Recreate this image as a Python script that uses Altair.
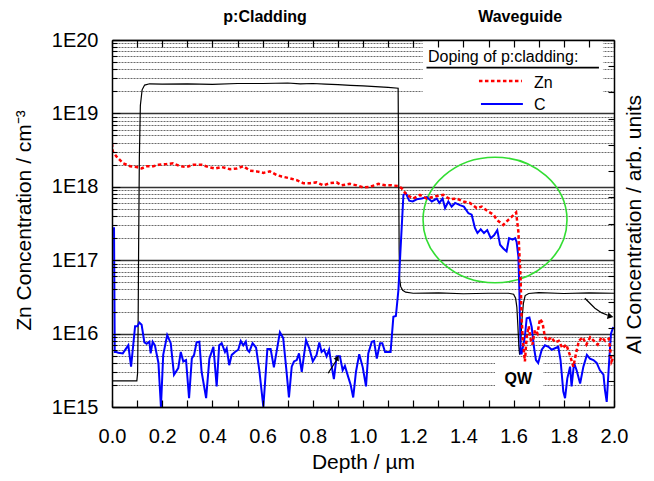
import altair as alt
import pandas as pd

FONT = "Liberation Sans"
W, H = 502, 367

# ---------------- values ----------------
zn_depth = [0.000, 0.003, 0.021, 0.045, 0.072, 0.098, 0.118, 0.138, 0.165, 0.185, 0.218, 0.244, 0.271, 0.297,
            0.324, 0.357, 0.384, 0.410, 0.437, 0.470, 0.497, 0.523, 0.550, 0.576, 0.603, 0.629, 0.656, 0.676,
            0.703, 0.736, 0.762, 0.789, 0.815, 0.842, 0.869, 0.895, 0.915, 0.948, 0.975, 1.001, 1.028, 1.061,
            1.088, 1.114, 1.141, 1.154, 1.174, 1.200, 1.227, 1.254, 1.287, 1.320, 1.347, 1.373, 1.400, 1.426,
            1.453, 1.473, 1.500, 1.520, 1.533, 1.559, 1.579, 1.592, 1.610, 1.619, 1.623, 1.628, 1.632, 1.637,
            1.645, 1.652, 1.660, 1.668, 1.675, 1.685, 1.695, 1.705, 1.715, 1.725, 1.735, 1.750, 1.765, 1.780,
            1.795, 1.810, 1.825, 1.838, 1.850, 1.860, 1.875, 1.890, 1.905, 1.920, 1.935, 1.950, 1.965, 1.980,
            1.990, 2.000]
zn_log10 = [18.59, 18.48, 18.40, 18.32, 18.28, 18.27, 18.25, 18.28, 18.28, 18.30, 18.31, 18.32, 18.28, 18.27,
            18.30, 18.30, 18.27, 18.25, 18.27, 18.24, 18.25, 18.28, 18.22, 18.21, 18.19, 18.21, 18.16, 18.14,
            18.12, 18.09, 18.05, 18.05, 18.06, 18.02, 18.05, 18.06, 18.02, 18.04, 18.02, 17.99, 18.00, 18.04,
            18.02, 18.02, 18.01, 17.98, 17.89, 17.84, 17.89, 17.84, 17.87, 17.89, 17.83, 17.84, 17.80, 17.78,
            17.71, 17.73, 17.66, 17.62, 17.55, 17.48, 17.55, 17.59, 17.65, 17.39, 17.09, 16.73, 16.20, 15.90,
            15.62, 15.95, 16.10, 15.92, 15.85, 16.05, 16.00, 16.20, 16.15, 15.95, 15.90, 15.95, 15.88, 15.90,
            15.80, 15.85, 15.70, 15.55, 15.75, 15.90, 15.95, 15.85, 15.95, 15.90, 15.85, 15.95, 15.90, 15.93,
            15.62, 15.70]

c_depth = [0.008, 0.011, 0.017, 0.025, 0.043, 0.065, 0.076, 0.092, 0.101, 0.109, 0.118, 0.129, 0.138, 0.149,
           0.154, 0.162, 0.171, 0.185, 0.195, 0.204, 0.220, 0.234, 0.247, 0.264, 0.274, 0.284, 0.295, 0.307,
           0.318, 0.327, 0.337, 0.348, 0.357, 0.375, 0.388, 0.404, 0.417, 0.427, 0.437, 0.450, 0.457, 0.467,
           0.477, 0.490, 0.503, 0.513, 0.523, 0.533, 0.539, 0.547, 0.560, 0.574, 0.587, 0.603, 0.619, 0.632,
           0.645, 0.669, 0.682, 0.692, 0.705, 0.716, 0.725, 0.736, 0.745, 0.756, 0.773, 0.786, 0.800, 0.815,
           0.826, 0.835, 0.845, 0.855, 0.865, 0.875, 0.884, 0.895, 0.908, 0.919, 0.928, 0.941, 0.951, 0.961,
           0.972, 0.985, 0.999, 1.012, 1.021, 1.035, 1.044, 1.055, 1.068, 1.077, 1.088, 1.110, 1.121, 1.131,
           1.141, 1.161, 1.171, 1.184, 1.198, 1.214, 1.234, 1.254, 1.274, 1.294, 1.304, 1.317, 1.327, 1.340,
           1.353, 1.367, 1.386, 1.402, 1.420, 1.433, 1.446, 1.456, 1.469, 1.482, 1.495, 1.509, 1.522, 1.535,
           1.546, 1.559, 1.572, 1.582, 1.596, 1.606, 1.612, 1.619, 1.623, 1.628, 1.632, 1.645, 1.652, 1.663,
           1.672, 1.681, 1.689, 1.698, 1.712, 1.725, 1.739, 1.752, 1.765, 1.778, 1.787, 1.798, 1.805, 1.814,
           1.825, 1.831, 1.841, 1.851, 1.865, 1.878, 1.892, 1.904, 1.918, 1.931, 1.944, 1.958, 1.964, 1.971,
           1.981, 1.988, 1.997]
c_log10 = [17.45, 15.75, 15.75, 15.74, 15.73, 15.84, 15.55, 16.10, 16.10, 16.15, 16.12, 15.88, 15.86, 15.89,
           15.73, 15.89, 15.84, 15.60, 15.00, 15.71, 15.98, 15.87, 15.44, 15.53, 15.75, 15.62, 15.64, 15.12,
           15.66, 15.71, 15.88, 15.89, 15.48, 15.12, 15.66, 15.82, 15.28, 15.84, 15.87, 15.75, 15.80, 15.57,
           15.71, 15.75, 15.78, 15.90, 15.84, 15.89, 15.78, 15.75, 15.87, 15.81, 15.50, 15.00, 15.79, 15.79,
           15.54, 16.02, 15.94, 15.60, 15.13, 15.55, 15.62, 15.64, 15.73, 15.48, 15.91, 15.80, 15.62, 15.71,
           15.88, 15.75, 15.78, 15.69, 15.78, 15.56, 15.38, 15.69, 15.69, 15.50, 15.56, 15.41, 15.30, 15.13,
           15.48, 15.72, 15.54, 15.28, 15.73, 15.89, 15.90, 15.66, 15.87, 15.87, 15.75, 15.75, 16.23, 16.24,
           16.59, 17.89, 17.91, 17.81, 17.80, 17.83, 17.84, 17.86, 17.80, 17.84, 17.78, 17.84, 17.71, 17.80,
           17.73, 17.78, 17.75, 17.73, 17.64, 17.62, 17.44, 17.37, 17.42, 17.37, 17.41, 17.30, 17.34, 17.41,
           17.21, 17.16, 17.12, 17.30, 17.28, 17.30, 17.25, 17.05, 16.59, 15.73, 15.73, 15.96, 16.21, 16.22,
           16.09, 15.82, 15.64, 15.60, 15.78, 15.84, 15.82, 15.78, 15.80, 15.82, 15.64, 15.21, 15.12, 15.39,
           15.55, 15.28, 15.60, 15.50, 15.32, 15.55, 15.71, 15.66, 15.64, 15.60, 15.50, 15.44, 15.23, 15.07,
           15.64, 16.00, 16.09]

al_depth = [0.000, 0.099, 0.102, 0.104, 0.106, 0.109, 0.113, 0.120, 0.130, 0.150, 0.200, 0.300, 0.400, 0.500,
            0.600, 0.700, 0.750, 0.800, 0.850, 0.900, 0.950, 1.000, 1.050, 1.100, 1.140, 1.142, 1.144, 1.146,
            1.150, 1.158, 1.170, 1.200, 1.300, 1.400, 1.500, 1.580, 1.600, 1.608, 1.613, 1.617, 1.621, 1.624,
            1.628, 1.633, 1.639, 1.646, 1.660, 1.700, 1.800, 1.900, 2.000]
al_level = [1.00, 1.00, 1.30, 3.00, 6.00, 9.50, 11.50, 12.10, 12.28, 12.33, 12.32, 12.33, 12.31, 12.34,
            12.34, 12.36, 12.33, 12.34, 12.32, 12.30, 12.27, 12.25, 12.22, 12.19, 12.16, 9.00, 6.00, 4.90,
            4.60, 4.45, 4.38, 4.34, 4.35, 4.32, 4.34, 4.34, 4.30, 4.15, 3.80, 3.10, 2.30, 2.00,
            2.40, 3.30, 3.95, 4.25, 4.33, 4.36, 4.33, 4.35, 4.34]

x_tick_values = [0.0, 0.1, 0.2, 0.3, 0.4, 0.5, 0.6, 0.7, 0.8, 0.9, 1.0, 1.1, 1.2, 1.3, 1.4, 1.5, 1.6, 1.7,
                 1.8, 1.9, 2.0]
x_label_values = [0.0, 0.2, 0.4, 0.6, 0.8, 1.0, 1.2, 1.4, 1.6, 1.8, 2.0]
y_decades = [1e15, 1e16, 1e17, 1e18, 1e19, 1e20]
y_minor_mult = [2, 3, 4, 5, 6, 7, 8, 9]
al_tick_values = [1, 2, 3, 4, 5, 6, 7, 8, 9, 10, 11, 12, 13]

region_labels = ["p:Cladding", "Waveguide"]
region_depth = [0.61, 1.626]

legend_texts = ["Doping of p:cladding:", "Zn", "C"]
legend_text_depth = [1.259, 1.681, 1.681]
legend_text_conc = [5.0e19, 2.22e19, 1.11e19]

# ---------------- tables ----------------
zn_df = pd.DataFrame({"depth": zn_depth, "conc": [10 ** v for v in zn_log10], "i": range(len(zn_depth))})
c_df = pd.DataFrame({"depth": c_depth, "conc": [10 ** v for v in c_log10], "i": range(len(c_depth))})
al_df = pd.DataFrame({"depth": al_depth, "al": al_level, "i": range(len(al_depth))})
y_all = sorted(y_decades + [m * d for d in y_decades[:-1] for m in y_minor_mult])

XS = alt.Scale(domain=[0, 2], nice=False, zero=False)
YL = alt.Scale(type="log", domain=[1e15, 1e20], nice=False)
YA = alt.Scale(domain=[0, 14], nice=False, zero=False)

MAJOR = "abs(log(datum.value)/LN10 - round(log(datum.value)/LN10)) < 0.001"

# ---------------- axes ----------------
ax_x_labels = alt.Axis(orient="bottom", values=x_label_values, format=".1f", labelFont=FONT, labelFontSize=20,
                       labelColor="black", labelPadding=19, labelFlush=False, labelOverlap=False, ticks=False,
                       domain=True, domainColor="black", domainWidth=1.5, grid=False, title="Depth / µm",
                       titleFont=FONT, titleFontSize=21, titleFontWeight="normal", titleColor="black",
                       titleX=251, titleY=61, titleAlign="center", titleBaseline="alphabetic", zindex=1)
ax_x_ticks_bottom = alt.Axis(orient="top", offset=-H, values=x_tick_values, ticks=True, tickSize=7,
                             tickColor="black", tickWidth=1.2, labels=False, domain=False, grid=False,
                             title=None, zindex=1)
ax_x_ticks_top = alt.Axis(orient="bottom", offset=-H, values=x_tick_values, ticks=True, tickSize=7,
                          tickColor="black", tickWidth=1.2, labels=False, domain=True, domainColor="black",
                          domainWidth=1.5, grid=False, title=None, zindex=1)
ax_y_grid = alt.Axis(orient="left", values=y_all, grid=True,
                     gridDash={"condition": {"test": MAJOR, "value": []}, "value": [2, 1]},
                     gridColor={"condition": {"test": MAJOR, "value": "#333333"}, "value": "#444444"},
                     gridWidth={"condition": {"test": MAJOR, "value": 1.4}, "value": 0.8},
                     ticks=False, labels=False, domain=False, title=None, zindex=0)
ax_y_labels = alt.Axis(orient="left", values=y_decades, labelExpr="'1E' + round(log(datum.value)/LN10)",
                       labelFont=FONT, labelFontSize=20, labelColor="black", labelPadding=14,
                       labelOverlap=False, ticks=False, domain=True, domainColor="black", domainWidth=1.5,
                       grid=False, title="Zn Concentration / cm⁻³", titleFont=FONT, titleFontSize=21,
                       titleFontWeight="normal", titleColor="black", titleAngle=270, titleX=-82, titleY=180,
                       titleAlign="center", titleBaseline="alphabetic", zindex=1)
ax_y_ticks_left = alt.Axis(orient="right", offset=-W, values=y_all, ticks=True,
                           tickSize={"condition": {"test": MAJOR, "value": 8}, "value": 5},
                           tickColor="black", tickWidth=1.1, labels=False, domain=False, grid=False,
                           title=None, zindex=1)
ax_al_title = alt.Axis(orient="right", values=al_tick_values, ticks=False, labels=False, domain=True,
                       domainColor="black", domainWidth=1.5, grid=False,
                       title="Al Concentration / arb. units", titleFont=FONT, titleFontSize=21,
                       titleFontWeight="normal", titleColor="black", titleAngle=270, titleX=26, titleY=184,
                       titleAlign="center", titleBaseline="alphabetic", zindex=1)
ax_al_ticks = alt.Axis(orient="left", offset=-W, values=al_tick_values, ticks=True, tickSize=6,
                       tickColor="black", tickWidth=1.1, labels=False, domain=False, grid=False,
                       title=None, zindex=1)

# ---------------- layers ----------------
boxes = pd.DataFrame({"x1": [1.2375, 1.526], "x2": [1.956, 1.717],
                      "y1": [1e20, 10 ** 15.64], "y2": [10 ** 19.02, 10 ** 15.20]})
box_layer = alt.Chart(boxes).mark_rect(color="white").encode(
    x=alt.X("x1:Q", scale=XS, axis=None), x2="x2:Q",
    y=alt.Y("y1:Q", scale=YL, axis=None), y2="y2:Q")

ellipse_df = pd.DataFrame({"depth": [1.526], "conc": [3.53e17]})
ellipse = alt.Chart(ellipse_df).mark_point(
    shape="M -1.146 0 A 1.146 1 0 1 1 1.146 0 A 1.146 1 0 1 1 -1.146 0 Z",
    size=15775, filled=False, stroke="#33dd33", strokeWidth=1.6, opacity=1).encode(
    x=alt.X("depth:Q", scale=XS, axis=ax_x_ticks_top),
    y=alt.Y("conc:Q", scale=YL, axis=ax_y_ticks_left))

al_line = alt.Chart(al_df).mark_line(color="black", strokeWidth=1.2).encode(
    x=alt.X("depth:Q", scale=XS, axis=None),
    y=alt.Y("al:Q", scale=YA, axis=ax_al_title),
    order="i:Q")

arrow2_df = pd.DataFrame({"depth": [1.884, 1.905, 1.924, 1.950, 1.975], "al": [4.15, 3.95, 3.77, 3.60, 3.50],
                          "i": [0, 1, 2, 3, 4]})
arrow2 = alt.Chart(arrow2_df).mark_line(color="black", strokeWidth=1.2).encode(
    x=alt.X("depth:Q", scale=XS, axis=None),
    y=alt.Y("al:Q", scale=YA, axis=ax_al_ticks), order="i:Q")
arrow2_head = alt.Chart(pd.DataFrame({"depth": [1.986], "al": [3.46]})).mark_point(
    shape="triangle-right", size=45, filled=True, color="black", opacity=1, angle=13).encode(
    x=alt.X("depth:Q", scale=XS, axis=None),
    y=alt.Y("al:Q", scale=YA, axis=None))

c_line = alt.Chart(c_df).mark_line(color="#0000ff", strokeWidth=2, clip=True).encode(
    x=alt.X("depth:Q", scale=XS, axis=ax_x_ticks_bottom),
    y=alt.Y("conc:Q", scale=YL, axis=ax_y_labels), order="i:Q")
zn_line = alt.Chart(zn_df).mark_line(color="#ff0000", strokeWidth=2.5, strokeDash=[3.5, 2.5], clip=True).encode(
    x=alt.X("depth:Q", scale=XS, axis=ax_x_labels),
    y=alt.Y("conc:Q", scale=YL, axis=ax_y_grid), order="i:Q")

arrow1_df = pd.DataFrame({"depth": [0.861, 0.895], "conc": [10 ** 15.46, 10 ** 15.64], "i": [0, 1]})
arrow1 = alt.Chart(arrow1_df).mark_line(color="black", strokeWidth=1.2).encode(
    x=alt.X("depth:Q", scale=XS, axis=None), y=alt.Y("conc:Q", scale=YL, axis=None), order="i:Q")
arrow1_head = alt.Chart(pd.DataFrame({"depth": [0.898], "conc": [10 ** 15.67]})).mark_point(
    shape="triangle-up", size=35, filled=True, color="black", opacity=1, angle=28).encode(
    x=alt.X("depth:Q", scale=XS, axis=None), y=alt.Y("conc:Q", scale=YL, axis=None))

legend_text_df = pd.DataFrame({"depth": legend_text_depth, "conc": legend_text_conc, "label": legend_texts})
legend_text = alt.Chart(legend_text_df).mark_text(align="left", baseline="alphabetic", font=FONT,
                                                  fontSize=16, color="black").encode(
    x=alt.X("depth:Q", scale=XS, axis=None), y=alt.Y("conc:Q", scale=YL, axis=None), text="label:N")
underline = alt.Chart(pd.DataFrame({"x1": [1.253], "x2": [1.940], "conc": [4.2e19]})).mark_rule(
    color="black", strokeWidth=1.8).encode(
    x=alt.X("x1:Q", scale=XS, axis=None), x2="x2:Q", y=alt.Y("conc:Q", scale=YL, axis=None))
zn_sample = alt.Chart(pd.DataFrame({"x1": [1.462], "x2": [1.633], "conc": [2.76e19]})).mark_rule(
    color="#ff0000", strokeWidth=2.5, strokeDash=[3.5, 2.5]).encode(
    x=alt.X("x1:Q", scale=XS, axis=None), x2="x2:Q", y=alt.Y("conc:Q", scale=YL, axis=None))
c_sample = alt.Chart(pd.DataFrame({"x1": [1.470], "x2": [1.637], "conc": [1.34e19]})).mark_rule(
    color="#0000ff", strokeWidth=2).encode(
    x=alt.X("x1:Q", scale=XS, axis=None), x2="x2:Q", y=alt.Y("conc:Q", scale=YL, axis=None))

qw = alt.Chart(pd.DataFrame({"depth": [1.619], "conc": [10 ** 15.313], "label": ["QW"]})).mark_text(
    align="center", baseline="alphabetic", font=FONT, fontSize=16, fontWeight="bold", color="black").encode(
    x=alt.X("depth:Q", scale=XS, axis=None), y=alt.Y("conc:Q", scale=YL, axis=None), text="label:N")

regions = alt.Chart(pd.DataFrame({"depth": region_depth, "label": region_labels})).mark_text(
    align="center", baseline="alphabetic", font=FONT, fontSize=16, fontWeight="bold", color="black").encode(
    x=alt.X("depth:Q", scale=XS, axis=None), y=alt.value(-18), text="label:N")

chart = alt.layer(
    box_layer, ellipse, al_line, arrow2, arrow2_head, c_line, zn_line, arrow1, arrow1_head,
    legend_text, underline, zn_sample, c_sample, qw, regions
).resolve_scale(y="independent").resolve_axis(x="independent", y="independent").properties(
    width=W, height=H,
    autosize=alt.AutoSizeParams(type="none"),
    padding={"left": 104, "top": 32, "right": 32, "bottom": 66},
).configure_view(stroke=None)

chart.save("out.html", embed_options={"renderer": "svg", "actions": False})
